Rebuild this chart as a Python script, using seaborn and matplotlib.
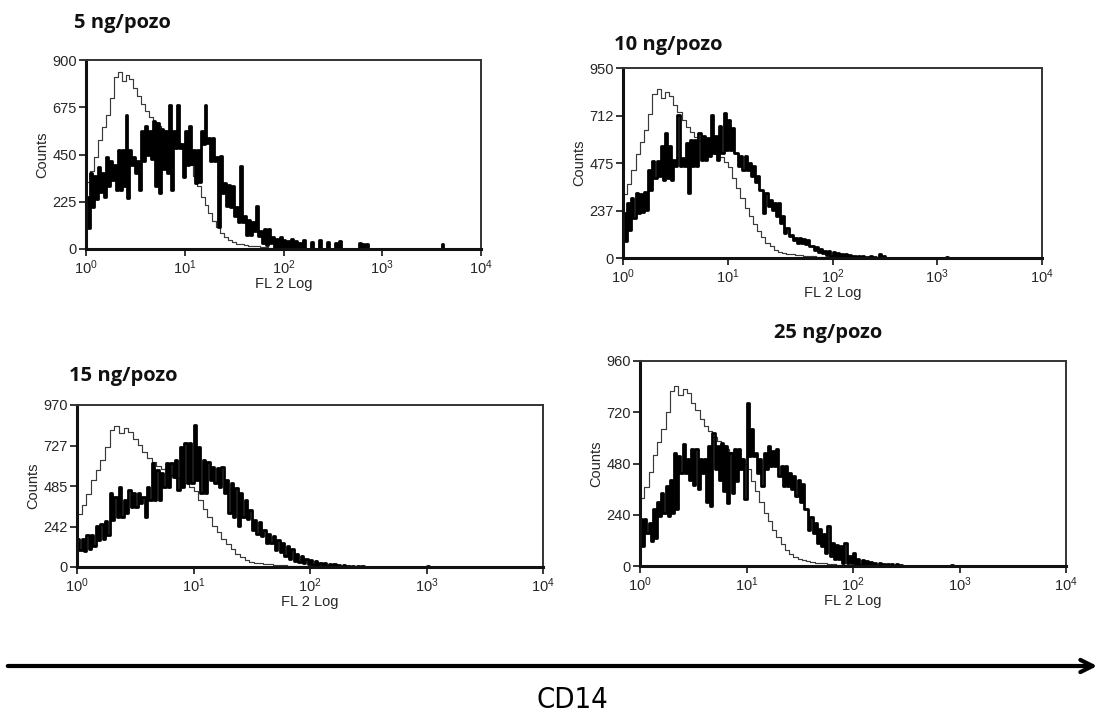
import numpy as np
import pandas as pd
import seaborn as sns
import matplotlib
matplotlib.use("Agg")
import matplotlib.pyplot as plt
from matplotlib.patches import FancyArrowPatch

# ---------------- data ----------------
# histogram channels: 100 bins of 0.04 decade over 10^0 .. 10^4
bin_width_log = 0.04
n_bins = 100

titles = ["5 ng/pozo", "10 ng/pozo", "15 ng/pozo", "25 ng/pozo"]
y_max = [900, 950, 970, 960]
y_ticks = [[0, 225, 450, 675, 900],
           [0, 237, 475, 712, 950],
           [0, 242, 485, 727, 970],
           [0, 240, 480, 720, 960]]

# control (thin line), the same sample in every panel
control = [320, 370, 440, 520, 580, 640, 720, 820, 845, 800,
           830, 810, 765, 730, 690, 655, 630, 605, 585, 565,
           550, 535, 520, 505, 480, 455, 400, 350, 300, 248,
           210, 170, 135, 105, 76, 58, 42, 32, 26, 22,
           18, 16, 14, 12, 10, 8, 6, 5, 4, 3,
           2, 1, 0, 0, 0, 0, 0, 0, 0, 0,
           0, 0, 0, 0, 0, 0, 0, 0, 0, 0,
           0, 0, 0, 0, 0, 0, 0, 0, 0, 0,
           0, 0, 0, 0, 0, 0, 0, 0, 0, 0,
           0, 0, 0, 0, 0, 0, 0, 0, 0, 0]

# treated samples (thick line): highest and lowest count within each bin
treated_5_high = [250, 360, 350, 390, 360, 440, 420, 400, 470, 470,
                  640, 470, 440, 420, 560, 585, 560, 610, 600, 570,
                  560, 686, 560, 686, 500, 560, 585, 470, 470, 560,
                  686, 530, 530, 437, 445, 313, 305, 300, 200, 394,
                  158, 140, 127, 205, 88, 96, 96, 57, 50, 57,
                  45, 40, 50, 40, 30, 45, 0, 35, 0, 45,
                  0, 35, 0, 30, 40, 0, 0, 0, 0, 30,
                  25, 25, 0, 0, 0, 0, 0, 0, 0, 0,
                  0, 0, 0, 0, 0, 0, 0, 0, 0, 0,
                  25, 0, 0, 0, 0, 0, 0, 0, 0, 0]
treated_5_low = [100, 200, 240, 270, 250, 300, 330, 280, 280, 300,
                 245, 400, 360, 280, 420, 450, 430, 300, 265, 380,
                 360, 282, 480, 480, 345, 400, 407, 313, 320, 500,
                 507, 420, 420, 104, 267, 205, 200, 158, 130, 130,
                 65, 65, 88, 60, 30, 19, 30, 11, 11, 10,
                 10, 5, 5, 0, 0, 0, 0, 0, 0, 0,
                 0, 0, 0, 0, 0, 0, 0, 0, 0, 0,
                 0, 0, 0, 0, 0, 0, 0, 0, 0, 0,
                 0, 0, 0, 0, 0, 0, 0, 0, 0, 0,
                 0, 0, 0, 0, 0, 0, 0, 0, 0, 0]

treated_10_high = [225, 275, 300, 325, 320, 330, 440, 483, 483, 560,
                   625, 560, 490, 716, 500, 575, 590, 590, 625, 610,
                   600, 716, 608, 658, 725, 690, 650, 525, 508, 508,
                   475, 460, 408, 340, 325, 290, 275, 275, 208, 150,
                   115, 100, 100, 95, 90, 58, 55, 45, 35, 33,
                   30, 25, 20, 20, 15, 12, 10, 8, 5, 10,
                   5, 20, 10, 0, 0, 0, 0, 0, 0, 0,
                   0, 0, 0, 0, 0, 0, 0, 5, 0, 0,
                   0, 0, 0, 0, 0, 0, 0, 0, 0, 0,
                   0, 0, 0, 0, 0, 0, 0, 0, 0, 0]
treated_10_low = [83, 140, 200, 225, 230, 240, 340, 400, 408, 390,
                  400, 390, 458, 458, 458, 325, 458, 458, 490, 490,
                  510, 525, 490, 525, 540, 540, 525, 460, 440, 440,
                  408, 380, 340, 225, 258, 240, 208, 175, 125, 110,
                  92, 75, 75, 70, 58, 40, 30, 25, 15, 10,
                  8, 5, 5, 3, 0, 0, 0, 0, 0, 0,
                  0, 0, 0, 0, 0, 0, 0, 0, 0, 0,
                  0, 0, 0, 0, 0, 0, 0, 0, 0, 0,
                  0, 0, 0, 0, 0, 0, 0, 0, 0, 0,
                  0, 0, 0, 0, 0, 0, 0, 0, 0, 0]

treated_15_high = [165, 165, 190, 193, 243, 260, 273, 442, 422, 481,
                   402, 462, 442, 442, 422, 481, 621, 581, 561, 621,
                   621, 641, 720, 740, 740, 850, 720, 641, 631, 600,
                   590, 601, 521, 500, 472, 442, 400, 342, 283, 270,
                   223, 200, 183, 160, 143, 123, 110, 80, 64, 50,
                   40, 35, 25, 25, 15, 15, 10, 10, 5, 8,
                   3, 5, 0, 0, 0, 0, 0, 0, 0, 0,
                   0, 0, 0, 0, 0, 5, 0, 0, 0, 0,
                   0, 0, 0, 0, 0, 0, 0, 0, 0, 0,
                   0, 0, 0, 0, 0, 0, 0, 0, 0, 0]
treated_15_low = [100, 94, 110, 123, 163, 170, 193, 283, 302, 302,
                  322, 362, 362, 382, 302, 402, 402, 402, 481, 481,
                  541, 462, 480, 501, 501, 520, 442, 442, 521, 500,
                  481, 442, 322, 300, 243, 302, 290, 223, 200, 183,
                  143, 143, 103, 90, 64, 50, 34, 30, 24, 15,
                  10, 8, 5, 3, 0, 0, 0, 0, 0, 0,
                  0, 0, 0, 0, 0, 0, 0, 0, 0, 0,
                  0, 0, 0, 0, 0, 0, 0, 0, 0, 0,
                  0, 0, 0, 0, 0, 0, 0, 0, 0, 0,
                  0, 0, 0, 0, 0, 0, 0, 0, 0, 0]

treated_25_high = [218, 218, 203, 265, 300, 343, 374, 405, 530, 515,
                   570, 500, 546, 546, 500, 500, 560, 624, 562, 577,
                   560, 530, 546, 546, 500, 764, 640, 530, 500, 530,
                   562, 540, 546, 468, 468, 437, 420, 405, 382, 265,
                   230, 203, 172, 150, 187, 109, 100, 94, 108, 47,
                   60, 35, 30, 25, 20, 15, 15, 10, 10, 8,
                   8, 5, 0, 0, 0, 0, 0, 0, 0, 0,
                   0, 0, 0, 5, 0, 0, 0, 0, 0, 0,
                   0, 0, 0, 0, 0, 0, 0, 0, 0, 0,
                   0, 0, 0, 0, 0, 0, 0, 0, 0, 0]
treated_25_low = [94, 156, 117, 130, 234, 250, 234, 250, 265, 437,
                  437, 405, 380, 360, 437, 300, 280, 452, 405, 350,
                  296, 343, 400, 452, 312, 515, 515, 437, 374, 452,
                  468, 468, 420, 374, 374, 360, 330, 300, 265, 170,
                  156, 109, 94, 60, 47, 31, 31, 16, 12, 12,
                  8, 5, 5, 3, 0, 0, 0, 0, 0, 0,
                  0, 0, 0, 0, 0, 0, 0, 0, 0, 0,
                  0, 0, 0, 0, 0, 0, 0, 0, 0, 0,
                  0, 0, 0, 0, 0, 0, 0, 0, 0, 0,
                  0, 0, 0, 0, 0, 0, 0, 0, 0, 0]

treated_high = [treated_5_high, treated_10_high, treated_15_high, treated_25_high]
treated_low = [treated_5_low, treated_10_low, treated_15_low, treated_25_low]

# ---------------- style ----------------
sns.set_style("ticks")
plt.rcParams["font.family"] = ["Liberation Sans", "DejaVu Sans"]
plt.rcParams["mathtext.fontset"] = "custom"
plt.rcParams["mathtext.rm"] = "Liberation Sans"
plt.rcParams["mathtext.it"] = "Liberation Sans"
plt.rcParams["mathtext.default"] = "regular"

W, H = 1102, 723
fig = plt.figure(figsize=(W / 100, H / 100), dpi=100)
fig.patch.set_facecolor("white")


def frac(x0, y0, x1, y1):
    return [x0 / W, 1 - y1 / H, (x1 - x0) / W, (y1 - y0) / H]


axes_px = [(86, 60, 481, 249), (623, 68, 1042, 258),
           (77, 405, 543, 567), (640, 361, 1066, 566)]
title_px = [(74, 23), (614, 45), (69, 376), (774, 333)]

log_edges = np.arange(n_bins) * bin_width_log
ctrl_x = 10 ** log_edges
# thick line: high then low value inside each bin (two half-bin steps)
thick_x = 10 ** np.column_stack([log_edges, log_edges + bin_width_log / 2]).ravel()

tick_col = "#262626"
for k in range(4):
    ax = fig.add_axes(frac(*axes_px[k]))
    dfc = pd.DataFrame({"fl2": ctrl_x, "counts": control})
    thick_y = np.column_stack([treated_high[k], treated_low[k]]).ravel()
    dft = pd.DataFrame({"fl2": thick_x, "counts": thick_y})
    sns.lineplot(data=dfc, x="fl2", y="counts", ax=ax, color="#3a3a3a",
                 linewidth=0.85, drawstyle="steps-post", estimator=None)
    sns.lineplot(data=dft, x="fl2", y="counts", ax=ax, color="black",
                 linewidth=2.0, drawstyle="steps-post", estimator=None)
    ax.set_xscale("log")
    ax.set_xlim(1, 1e4)
    ax.set_ylim(0, y_max[k])
    ax.set_yticks(y_ticks[k])
    ax.set_xticks([1, 10, 100, 1000, 10000])
    ax.minorticks_off()
    ax.tick_params(axis="both", direction="out", length=5, width=1.3,
                   labelsize=10.5, colors=tick_col, pad=1.5)
    ax.set_xlabel("FL 2 Log", fontsize=10.5, color=tick_col, labelpad=0)
    ax.set_ylabel("Counts", fontsize=10.5, color=tick_col, labelpad=2)
    for s in ["left", "bottom"]:
        ax.spines[s].set_linewidth(2.2)
        ax.spines[s].set_color("#111111")
    for s in ["top", "right"]:
        ax.spines[s].set_linewidth(1.4)
        ax.spines[s].set_color("#333333")
    tx, ty = title_px[k]
    fig.text(tx / W, 1 - ty / H, titles[k], fontsize=14.5, fontweight="bold",
             family=["Open Sans", "DejaVu Sans"], ha="left", va="center",
             color="#111111")

# bottom arrow and CD14 label
fig.add_artist(FancyArrowPatch(
    (5 / W, 1 - 666 / H), (1100 / W, 1 - 666 / H),
    transform=fig.transFigure, arrowstyle="->", mutation_scale=22,
    linewidth=3, color="black"))
fig.text(572 / W, 1 - 700 / H, "CD14", fontsize=21,
         family=["Liberation Sans Narrow", "DejaVu Sans"], fontstretch="condensed",
         ha="center", va="center", color="black")

fig.savefig("out.png", dpi=100, facecolor="white")
